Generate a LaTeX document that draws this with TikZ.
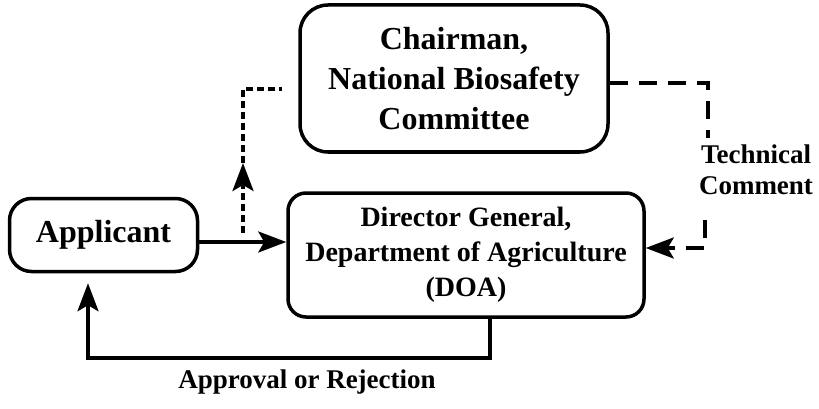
\documentclass[tikz,border=0pt]{standalone}
\usepackage{fontspec}
\setmainfont{Liberation Serif}
\usetikzlibrary{arrows.meta}
\begin{document}
\begin{tikzpicture}[x=1pt,y=-1pt,
  box/.style={draw, line width=3.5pt, align=center, inner sep=0pt},
  lab/.style={align=center, inner sep=0pt},
  solidline/.style={line width=3.3pt},
  dshort/.style={line width=3.6pt, dash pattern=on 7pt off 4pt},
  dlong/.style={line width=3.6pt, dash pattern=on 18pt off 11pt},
  arr/.style={-{Stealth[length=28pt,width=21pt,inset=6pt]}}]
\useasboundingbox (0,0) rectangle (819,409);
\node[box, rounded corners=28pt, minimum width=308pt, minimum height=147pt,
  font=\fontsize{32}{40}\selectfont\bfseries] (chair) at (454,78.5)
  {Chairman,\\National Biosafety\\Committee};
\node[box, rounded corners=18pt, minimum width=356pt, minimum height=124pt,
  font=\fontsize{28}{35}\selectfont\bfseries] (doa) at (466,255)
  {Director General,\\Department of Agriculture\\(DOA)};
\node[box, rounded corners=22pt, minimum width=188pt, minimum height=73pt,
  font=\fontsize{32}{40}\selectfont\bfseries] (app) at (103.5,235) {Applicant};
\node[lab, font=\fontsize{27}{31}\selectfont\bfseries] (tc) at (756,170) {Technical\\Comment};
\node[lab, font=\fontsize{27}{31}\selectfont\bfseries] (ar) at (307,382) {Approval or Rejection};
% coordinates
\coordinate (j) at (243,242);
\coordinate (ls) at (243,233);
\coordinate (m) at (243,163);
\coordinate (l1) at (243,89);
\coordinate (l2) at (282,89);
\coordinate (r1) at (708,83);
\coordinate (r2) at (708,138);
\coordinate (r3) at (705,220);
\coordinate (r4) at (705,248);
\coordinate (b1) at (490,358);
\coordinate (b2) at (88,358);
% connectors
\draw[solidline, arr] (app.east |- j) -- (doa.west |- j);
\draw[dshort, arr] (ls) -- (m);
\draw[dshort] (m) -- (l1) -- (l2);
\draw[dlong] (chair.east |- r1) -- (r1) -- (r2);
\draw[dlong, arr] (r3) -- (r4) -- (doa.east |- r4);
\draw[solidline, arr, shorten >=10pt] (doa.south -| b1) -- (b1) -- (b2) -- (app.south -| b2);
\end{tikzpicture}
\end{document}
